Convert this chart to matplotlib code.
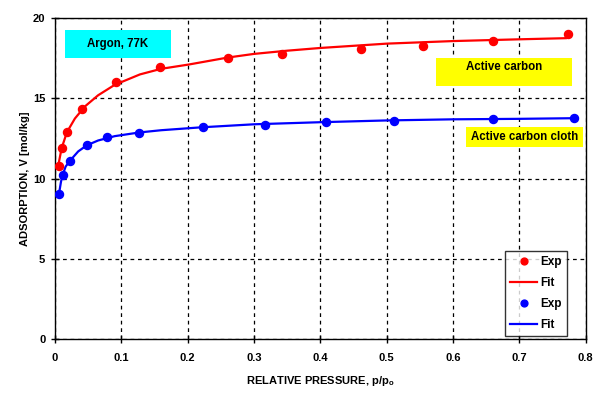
import matplotlib
matplotlib.use("Agg")
import matplotlib.pyplot as plt

plt.rcParams['font.family'] = ['Liberation Sans', 'DejaVu Sans']
plt.rcParams['font.weight'] = 'bold'

# Experimental data: Active carbon (red)
ac_x = [0.006, 0.0101, 0.0176, 0.0402, 0.092, 0.158, 0.261, 0.342, 0.462, 0.554, 0.661, 0.773]
ac_y = [10.81, 11.90, 12.93, 14.33, 16.01, 16.96, 17.55, 17.80, 18.09, 18.30, 18.61, 19.03]
# Fit: Active carbon
ac_fit_x = [0.004, 0.006, 0.010, 0.018, 0.030, 0.045, 0.065, 0.090, 0.128, 0.160, 0.202, 0.260,
            0.300, 0.350, 0.400, 0.500, 0.600, 0.700, 0.770]
ac_fit_y = [10.75, 11.05, 11.90, 12.90, 13.75, 14.50, 15.20, 15.85, 16.50, 16.85, 17.12, 17.55,
            17.78, 17.98, 18.15, 18.42, 18.58, 18.69, 18.76]

# Experimental data: Active carbon cloth (blue)
acc_x = [0.006, 0.0116, 0.0226, 0.0478, 0.078, 0.127, 0.223, 0.317, 0.408, 0.511, 0.660, 0.782]
acc_y = [9.05, 10.23, 11.12, 12.12, 12.62, 12.87, 13.21, 13.35, 13.54, 13.62, 13.74, 13.81]
# Fit: Active carbon cloth
acc_fit_x = [0.006, 0.009, 0.0116, 0.016, 0.0226, 0.035, 0.048, 0.065, 0.090, 0.127, 0.160,
             0.220, 0.300, 0.400, 0.500, 0.600, 0.700, 0.782]
acc_fit_y = [9.05, 9.80, 10.23, 10.75, 11.12, 11.70, 12.08, 12.38, 12.65, 12.88, 13.02,
             13.20, 13.39, 13.52, 13.63, 13.70, 13.73, 13.77]

x_ticks = [0, 0.1, 0.2, 0.3, 0.4, 0.5, 0.6, 0.7, 0.8]
y_ticks = [0, 5, 10, 15, 20]

fig = plt.figure(figsize=(6.02, 3.98), dpi=100)
ax = fig.add_axes([55/602, 1 - 339/398, (585.7 - 55)/602, (339 - 18.3)/398])

ax.plot(ac_x, ac_y, 'o', color='#ff0000', markersize=5.8, label='Exp', zorder=4)
ax.plot(ac_fit_x, ac_fit_y, '-', color='#ff0000', linewidth=1.6, label='Fit', zorder=3)
ax.plot(acc_x, acc_y, 'o', color='#0000ff', markersize=5.8, label='Exp', zorder=4)
ax.plot(acc_fit_x, acc_fit_y, '-', color='#0000ff', linewidth=1.6, label='Fit', zorder=3)

ax.set_xlim(0, 0.8)
ax.set_ylim(0, 20)
ax.set_xticks(x_ticks)
ax.set_xticklabels(['0', '0.1', '0.2', '0.3', '0.4', '0.5', '0.6', '0.7', '0.8'])
ax.set_yticks(y_ticks)
ax.tick_params(axis='both', direction='inout', length=6, width=1, labelsize=8, pad=4)
ax.tick_params(axis='x', pad=7)
for lbl in ax.get_xticklabels() + ax.get_yticklabels():
    lbl.set_fontweight('bold')

ax.grid(True, linestyle=(0, (3, 3)), color='black', linewidth=0.9)
for s in ax.spines.values():
    s.set_linewidth(1.0)
    s.set_color('black')

ax.set_xlabel('RELATIVE PRESSURE, p/p$_\\mathregular{o}$', fontsize=8, fontweight='bold', labelpad=8)
ax.set_ylabel('ADSORPTION, V [mol/kg]', fontsize=8, fontweight='bold', labelpad=2)

# annotation boxes
fig.patches.append(plt.Rectangle((65/602, 1 - 57.7/398), (170.7 - 65)/602, (57.7 - 30)/398,
                                 transform=fig.transFigure, facecolor='#00ffff', edgecolor='none', zorder=5))
fig.text((65 + 170.7) / 2 / 602, 1 - 43.5/398, 'Argon, 77K', ha='center', va='center',
         fontsize=8.3, fontweight='bold', zorder=6)
fig.patches.append(plt.Rectangle((436/602, 1 - 85.7/398), (571.7 - 436)/602, (85.7 - 57.7)/398,
                                 transform=fig.transFigure, facecolor='#ffff00', edgecolor='none', zorder=5))
fig.text((436 + 571.7) / 2 / 602, 1 - 67/398, 'Active carbon', ha='center', va='center',
         fontsize=8.3, fontweight='bold', zorder=6)
fig.patches.append(plt.Rectangle((465.7/602, 1 - 146.7/398), (582.7 - 465.7)/602, (146.7 - 126.7)/398,
                                 transform=fig.transFigure, facecolor='#ffff00', edgecolor='none', zorder=5))
fig.text((465.7 + 582.7) / 2 / 602, 1 - 136.5/398, 'Active carbon cloth', ha='center', va='center',
         fontsize=8.3, fontweight='bold', zorder=6)

leg = ax.legend(loc='lower left', bbox_to_anchor=((505 - 55)/530.7, (339 - 336)/320.7),
                frameon=True, fancybox=False, edgecolor='black', fontsize=8.5,
                handlelength=2.3, handletextpad=0.2, borderpad=0.45, labelspacing=0.75,
                borderaxespad=0, markerscale=0.85)
leg.get_frame().set_linewidth(1.0)
for t in leg.get_texts():
    t.set_fontweight('bold')

fig.savefig('out.png', dpi=100)
